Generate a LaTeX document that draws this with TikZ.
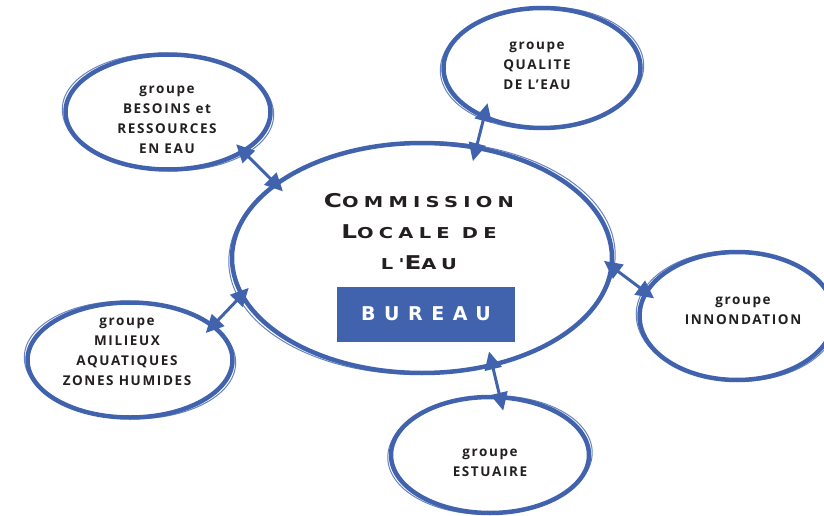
\documentclass[tikz,border=0pt]{standalone}
\usepackage{fontspec}
\setmainfont{Open Sans}
\newfontfamily\titlefont{DejaVu Sans}
\definecolor{BLUE}{HTML}{4163AE}
\definecolor{INK}{HTML}{231F20}
\usetikzlibrary{shapes,arrows.meta,positioning,calc}

\begin{document}
\begin{tikzpicture}
[x=1pt, y=-1pt,
group/.style ={ellipse, draw=BLUE, line width=4.5pt, inner sep=0pt},
brush/.style={BLUE, line width=1pt, opacity=.8},
txt/.style={align=center, text=INK, inner sep=0pt,
font=\fontsize{13.5}{20}\selectfont\bfseries\addfontfeatures{LetterSpace=12}},
link/.style={<->, BLUE, line width=3pt, >={Triangle[length=18pt,width=17pt]},
shorten >=-12pt, shorten <=-12pt}]
\useasboundingbox (0,0) rectangle (824,516);

% commission locale de l'eau
\node[group, minimum width=380pt, minimum height=230pt] (cle) at (422,258) {};
\node[align=center, text=INK, inner sep=0pt,
font=\titlefont\bfseries\fontsize{15}{31}\selectfont\addfontfeatures{FakeStretch=1.3,LetterSpace=35}] (title) at (419,232)
{{\fontsize{19}{31}\selectfont C}OMMISSION\\
{\fontsize{19}{31}\selectfont L}OCALE DE\\
L'{\fontsize{19}{31}\selectfont E}AU};
\node[fill=BLUE, minimum width=178pt, minimum height=55pt, inner sep=0pt, text=white,
font=\titlefont\bfseries\fontsize{19}{22}\selectfont\addfontfeatures{LetterSpace=45}] (bureau) at (426,314) {BUREAU};

% groupes
\node[group, minimum width=205pt, minimum height=115pt] (besoins) at (168,112) {};
\node[txt] (besoins text) at (167,120) {groupe\\BESOINS et\\RESSOURCES\\EN EAU};
\node[group, minimum width=197pt, minimum height=120pt] (qualite) at (542,68) {};
\node[txt] (qualite text) at (537,66) {groupe\\QUALITE\\DE L'EAU};
\node[group, minimum width=195pt, minimum height=128pt] (innond) at (737,316) {};
\node[txt] (innond text) at (743,311) {groupe\\INNONDATION};
\node[group, minimum width=198pt, minimum height=116pt] (estuaire) at (490,455) {};
\node[txt] (estuaire text) at (490,463) {groupe\\ESTUAIRE};
\node[group, minimum width=205pt, minimum height=115pt] (milieux) at (130,360) {};
\node[txt] (milieux text) at (127,352) {groupe\\MILIEUX\\AQUATIQUES\\ZONES HUMIDES};

% coups de pinceau
\foreach \g/\a in {cle/1.5,besoins/-2,qualite/2,innond/-1.5,estuaire/2,milieux/-2}
  \draw[brush] let \p1=($(\g.east)-(\g.center)$), \p2=($(\g.north)-(\g.center)$) in
  [rotate around={\a:(\g.center)}] (\g.center) ellipse [x radius=\x1+1pt, y radius=\y2-1pt];

% liens
\draw[link] (besoins.-28) -- (cle.153);
\draw[link, shorten >=-16pt, shorten <=-16pt] (qualite.221) -- (cle.64);
\draw[link] (cle.-3) -- (innond.165);
\draw[link, shorten >=-16pt, shorten <=-16pt] (cle.-57) -- (estuaire.81);
\draw[link] (milieux.23) -- (cle.192);

\end{tikzpicture}
\end{document}
